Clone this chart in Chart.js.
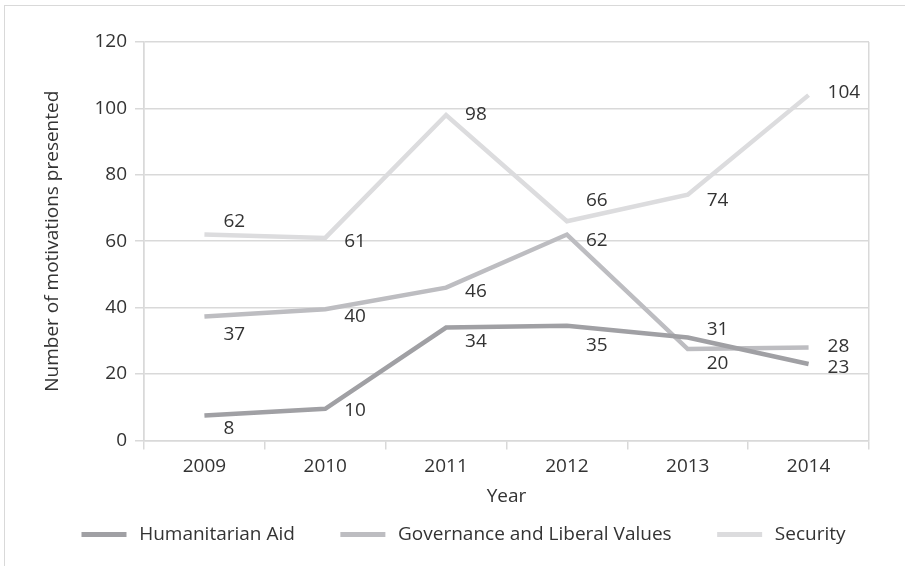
<!DOCTYPE html>
<html>
<head>
<meta charset="utf-8">
<script src="https://cdn.jsdelivr.net/npm/chart.js@4.4.1/dist/chart.umd.min.js"></script>
<style>
  html, body { margin: 0; padding: 0; background: #fff; overflow: hidden; }
  #frame { position: absolute; left: 4px; top: 5px; width: 1000px; height: 1000px; border: 1px solid #d9d9d9; }
  #wrap { position: absolute; left: 0; top: 0; width: 927px; height: 566px; }
</style>
</head>
<body>
<div id="frame"></div>
<div id="wrap"><canvas id="motivationChart"></canvas></div>
<script>
const years = ["2009", "2010", "2011", "2012", "2013", "2014"];
const yTicks = [0, 20, 40, 60, 80, 100, 120];

// line values
const humanitarian = [7.5, 9.5, 34, 34.5, 31, 23];
const governance = [37.3, 39.5, 46, 62, 27.5, 28];
const security = [62, 61, 98, 66, 74, 104];

// the data labels as printed on the picture
const humanitarianText = ["8", "10", "34", "35", "31", "23"];
const governanceText = ["37", "40", "46", "62", "20", "28"];
const securityText = ["62", "61", "98", "66", "74", "104"];

// vertical nudge of each label (styling only)
const humanitarianNudge = [13, 2, 14, 20, -8, 4];
const governanceNudge = [18, 7, 4, 6, 14, -1];
const securityNudge = [-13, 4, 0, -21, 6, -3];

const FONT = "'Open Sans', sans-serif";
const SIZE = 19;
const GRID = "#d9d9d9";
const TEXT = "#333333";

const series = [
  { label: "Humanitarian Aid", data: humanitarian, text: humanitarianText, nudge: humanitarianNudge, color: "#a0a0a4" },
  { label: "Governance and Liberal Values", data: governance, text: governanceText, nudge: governanceNudge, color: "#bdbdc1" },
  { label: "Security", data: security, text: securityText, nudge: securityNudge, color: "#dcdcde" }
];

const pointLabels = {
  id: "pointLabels",
  afterDatasetsDraw(chart) {
    const ctx = chart.ctx;
    ctx.save();
    ctx.font = SIZE + "px " + FONT;
    ctx.fillStyle = TEXT;
    ctx.textAlign = "left";
    ctx.textBaseline = "middle";
    chart.data.datasets.forEach((ds, di) => {
      const meta = chart.getDatasetMeta(di);
      meta.data.forEach((pt, i) => {
        ctx.fillText(ds.labelText[i], pt.x + 19, pt.y + ds.labelNudge[i]);
      });
    });
    ctx.restore();
  }
};

new Chart(document.getElementById("motivationChart"), {
  type: "line",
  data: {
    labels: years,
    datasets: series.map(s => ({
      label: s.label,
      data: s.data,
      labelText: s.text,
      labelNudge: s.nudge,
      borderColor: s.color,
      backgroundColor: s.color,
      borderWidth: 4.5,
      borderJoinStyle: "miter",
      pointRadius: 0,
      tension: 0,
      fill: false
    }))
  },
  options: {
    responsive: true,
    maintainAspectRatio: false,
    animation: false,
    layout: { padding: { top: 42, left: 0, right: 0, bottom: 12 } },
    scales: {
      x: {
        offset: true,
        grid: {
          offset: true,
          color: c => (c.index === 0 || c.index === undefined) ? GRID : "transparent",
          tickColor: GRID,
          tickLength: 9,
          lineWidth: 1.5
        },
        border: { color: GRID, width: 1.5 },
        ticks: { color: TEXT, font: { family: FONT, size: SIZE }, padding: 6 },
        title: { display: true, text: "Year", color: TEXT, font: { family: FONT, size: SIZE }, padding: { top: 1, bottom: 0 } }
      },
      y: {
        min: 0,
        max: 120,
        afterBuildTicks: axis => { axis.ticks = yTicks.map(v => ({ value: v })); },
        afterFit: axis => { axis.width = 144; },
        grid: { color: GRID, tickColor: GRID, tickLength: 9, lineWidth: 1.5 },
        border: { color: GRID, width: 1.5 },
        ticks: { color: TEXT, font: { family: FONT, size: SIZE }, padding: 8 },
        title: { display: true, text: "Number of motivations presented", color: TEXT, font: { family: FONT, size: SIZE }, padding: { top: 41, bottom: 0 } }
      },
      right: {
        position: "right",
        display: true,
        afterFit: axis => { axis.width = 58; },
        grid: { display: false },
        border: { display: false },
        ticks: { display: false }
      }
    },
    plugins: {
      legend: {
        position: "bottom",
        labels: {
          color: TEXT,
          font: { family: FONT, size: SIZE },
          boxWidth: 45,
          boxHeight: 5,
          padding: 17,
          generateLabels: chart => Chart.defaults.plugins.legend.labels.generateLabels(chart).map((l, i, all) => ({
            ...l,
            lineWidth: 0,
            text: "\u2009" + l.text + (i < all.length - 1 ? "\u2002\u2002\u2002" : "")
          }))
        }
      },
      tooltip: { enabled: false }
    }
  },
  plugins: [pointLabels]
});
</script>
</body>
</html>
